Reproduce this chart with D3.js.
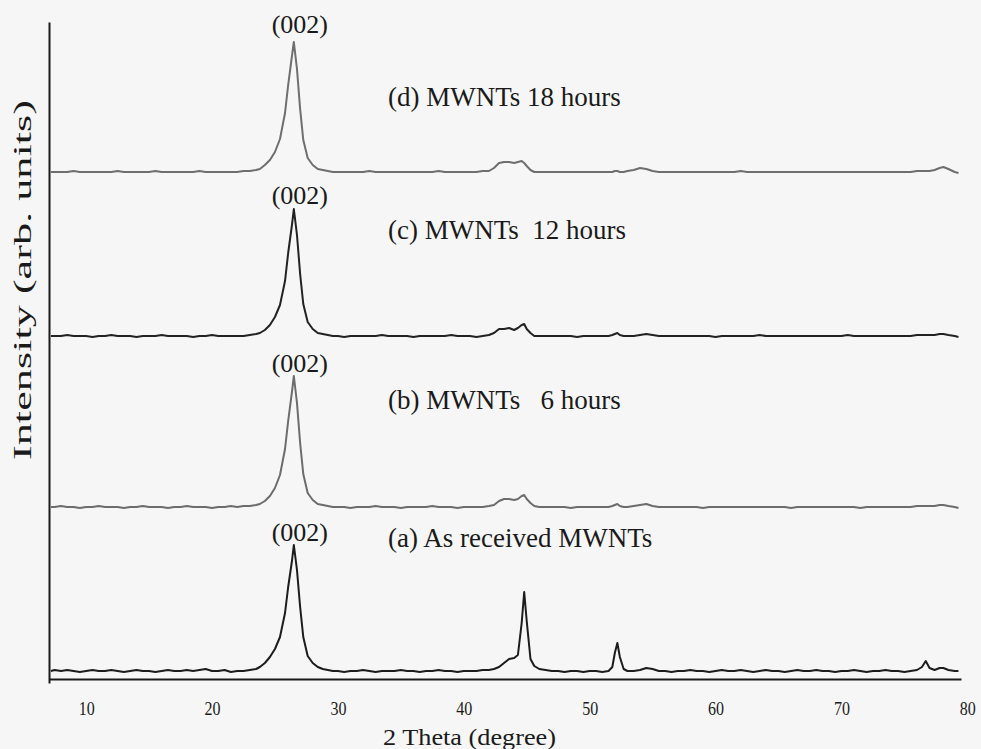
<!DOCTYPE html>
<html>
<head>
<meta charset="utf-8">
<script src="https://cdn.jsdelivr.net/npm/d3@7"></script>
<style>
  html, body { margin: 0; padding: 0; background: #f6f6f6; }
  svg { display: block; }
  text { font-family: "Liberation Serif", "DejaVu Serif", serif; fill: #1a1a1a; }
</style>
</head>
<body>
<svg id="chart" width="981" height="749"></svg>
<script>
// 2θ sampling grid (degrees), finer around the diffraction peaks
const twoTheta = [
  7.2, 7.5, 8, 8.5, 9, 9.5, 10, 10.5, 11, 11.5, 12, 12.5, 13, 13.5, 14, 14.5, 15, 15.5, 16, 16.5,
  17, 17.5, 18, 18.5, 19, 19.5, 20, 20.5, 21, 21.5, 22, 22.5, 23, 23.5,
  23.8, 24.2, 24.6, 25.0, 25.4, 25.8, 26.05, 26.35, 26.5, 26.75, 27.0, 27.25, 27.6, 28.0, 28.4, 28.8, 29.2,
  29.6, 30, 30.5, 31, 31.5, 32, 32.5, 33, 33.5, 34, 34.5, 35, 35.5, 36, 36.5, 37, 37.5, 38, 38.5, 39,
  39.5, 40, 40.5, 41, 41.5, 42,
  42.4, 42.8, 43.2, 43.6, 44.0, 44.3, 44.6, 44.8, 45.0, 45.3, 45.6, 46.0,
  46.5, 47, 47.5, 48, 48.5, 49, 49.5, 50, 50.5, 51, 51.5,
  51.8, 52.0, 52.2, 52.4, 52.7,
  53, 53.5, 54, 54.5, 55, 55.5, 56, 56.5, 57, 57.5, 58, 58.5, 59, 59.5, 60, 60.5, 61, 61.5, 62, 62.5,
  63, 63.5, 64, 64.5, 65, 65.5, 66, 66.5, 67, 67.5, 68, 68.5, 69, 69.5, 70, 70.5, 71, 71.5, 72, 72.5,
  73, 73.5, 74, 74.5, 75, 75.5, 76,
  76.4, 76.7, 77.0, 77.4, 77.8, 78.1, 78.5, 79.0, 79.3
];

// Intensities (arb. units) on the grid above
const asReceived = [
  8, 9, 8, 9, 8, 7, 8, 9, 8, 8, 9, 8, 7, 8, 9, 8, 8, 7, 8, 9,
  8, 8, 9, 8, 9, 10, 8, 8, 9, 7, 8, 8, 9, 10,
  12, 16, 22, 30, 42, 66, 92, 118, 134, 109, 72, 42, 23, 16, 12, 10, 9,
  8, 8, 7, 8, 8, 9, 8, 7, 8, 8, 8, 9, 8, 8, 7, 8, 8, 9, 8, 8,
  7, 8, 8, 8, 9, 9,
  10, 12, 16, 20, 21, 24, 56, 87, 58, 20, 13, 10,
  9, 8, 8, 7, 8, 8, 7, 8, 8, 7, 8,
  12, 26, 36, 22, 10,
  8, 8, 9, 11, 10, 8, 8, 7, 8, 8, 9, 8, 8, 7, 8, 9, 8, 8, 9, 8,
  7, 8, 9, 8, 8, 7, 8, 9, 8, 8, 9, 8, 8, 7, 8, 8, 9, 8, 7, 8,
  8, 9, 8, 8, 7, 8, 9,
  12, 18, 11, 9, 11, 11, 9, 8, 8
];

const milled6h = [
  8, 8, 9, 8, 8, 7, 8, 8, 9, 8, 8, 8, 7, 8, 8, 9, 8, 8, 8, 7,
  8, 8, 9, 8, 8, 8, 7, 8, 8, 9, 8, 9, 9, 10,
  11, 14, 19, 27, 40, 66, 94, 123, 139, 112, 72, 41, 22, 15, 11, 10, 9,
  8, 8, 8, 7, 8, 8, 8, 9, 8, 8, 8, 7, 8, 8, 8, 8, 9, 8, 8, 8,
  7, 8, 8, 8, 8, 9,
  10, 14, 16, 16, 15, 16, 19, 20, 16, 12, 9, 8,
  8, 8, 8, 8, 7, 8, 8, 8, 8, 8, 8,
  9, 10, 11, 9, 8,
  8, 9, 10, 11, 9, 8, 8, 8, 8, 8, 8, 8, 7, 8, 8, 8, 8, 8, 8, 8,
  8, 8, 8, 8, 8, 8, 7, 8, 8, 8, 8, 8, 8, 8, 8, 8, 8, 7, 8, 8,
  8, 8, 8, 8, 8, 8, 9,
  9, 9, 9, 9, 10, 10, 9, 8, 7
];

const milled12h = [
  8, 8, 8, 9, 8, 8, 8, 7, 8, 8, 9, 8, 8, 8, 7, 8, 8, 8, 9, 8,
  8, 8, 8, 7, 8, 8, 9, 8, 8, 8, 8, 8, 9, 10,
  11, 14, 19, 27, 39, 63, 91, 119, 135, 109, 70, 40, 22, 15, 11, 10, 9,
  8, 8, 7, 8, 8, 8, 8, 8, 9, 8, 8, 8, 8, 7, 8, 8, 8, 8, 8, 9,
  8, 8, 8, 7, 8, 9,
  11, 15, 15, 16, 14, 16, 19, 20, 15, 11, 8, 8,
  8, 8, 8, 8, 8, 7, 8, 8, 8, 8, 8,
  9, 10, 11, 9, 8,
  8, 8, 9, 10, 9, 8, 8, 8, 8, 8, 8, 8, 8, 8, 7, 8, 8, 8, 8, 8,
  8, 9, 8, 8, 8, 8, 8, 8, 8, 8, 8, 8, 8, 8, 8, 9, 8, 8, 8, 8,
  8, 8, 8, 8, 8, 8, 9,
  9, 9, 9, 9, 10, 10, 9, 8, 7
];

const milled18h = [
  8, 8, 8, 8, 9, 8, 8, 8, 8, 8, 8, 9, 8, 8, 8, 8, 8, 9, 8, 8,
  8, 8, 8, 8, 9, 8, 8, 8, 8, 8, 8, 9, 9, 10,
  11, 15, 20, 28, 41, 67, 95, 124, 138, 111, 71, 40, 22, 15, 11, 10, 9,
  8, 8, 8, 8, 8, 8, 9, 8, 8, 8, 8, 8, 8, 8, 8, 8, 8, 9, 8, 8,
  8, 8, 8, 8, 9, 9,
  12, 17, 18, 18, 17, 18, 19, 17, 14, 10, 8, 8,
  8, 8, 8, 8, 8, 8, 8, 8, 8, 8, 8,
  8, 9, 9, 8, 8,
  9, 10, 12, 11, 9, 8, 8, 8, 8, 8, 8, 8, 8, 8, 8, 8, 8, 8, 9, 8,
  8, 8, 8, 8, 8, 8, 8, 8, 8, 8, 8, 8, 8, 8, 8, 8, 8, 8, 8, 8,
  8, 8, 8, 8, 8, 8, 9,
  9, 9, 9, 10, 12, 13, 11, 8, 7
];

// Vertical stacking offsets and labels, bottom to top
const seriesValues = [asReceived, milled6h, milled12h, milled18h];
const seriesOffsets = [0, 164, 335, 499];
const seriesLabels = ["(a) As received MWNTs", "(b) MWNTs   6 hours", "(c) MWNTs  12 hours", "(d) MWNTs 18 hours"];
const seriesColors = ["#1c1c1c", "#6c6c6c", "#222222", "#6e6e6e"];
const peakLabel = "(002)";
const peakAngle = 26.5;
const xTickValues = [10, 20, 30, 40, 50, 60, 70, 80];
const xTitle = "2 Theta (degree)";
const yTitle = "Intensity (arb. units)";

const svg = d3.select("#chart");

const x = d3.scaleLinear().domain([7.05, 79.5]).range([49, 961]);
const y = d3.scaleLinear().domain([-4, 657]).range([683, 22]);

// Stacked diffraction patterns
const line = d3.line()
  .x((d, i) => x(twoTheta[i]))
  .y(d => y(d.v));

seriesValues.forEach((vals, k) => {
  const pts = vals.map(v => ({ v: v + seriesOffsets[k] }));
  svg.append("path")
    .datum(pts)
    .attr("fill", "none")
    .attr("stroke", seriesColors[k])
    .attr("stroke-width", 2)
    .attr("stroke-linejoin", "round")
    .attr("d", line);
});

// x axis: baseline plus numbers, no tick marks
const xAxis = svg.append("g")
  .attr("transform", `translate(0,${y(0)})`)
  .call(d3.axisBottom(x).tickValues(xTickValues).tickSize(0).tickPadding(23).tickFormat(d3.format("d")));
xAxis.select(".domain").attr("stroke", "#1a1a1a").attr("stroke-width", 2.2);
xAxis.selectAll("text")
  .style("font-size", "18px")
  .style("fill", "#1a1a1a")
  .attr("textLength", 16)
  .attr("lengthAdjust", "spacingAndGlyphs");

// y axis: plain vertical rule
const yAxis = svg.append("g")
  .attr("transform", `translate(${x(7.05)},0)`)
  .call(d3.axisLeft(y).tickValues([]).tickSizeOuter(0));
yAxis.select(".domain").attr("stroke", "#1a1a1a").attr("stroke-width", 2);

// Peak labels above the graphite (002) reflection
const peakBaselines = [541, 372, 204, 33];
peakBaselines.forEach(b => {
  svg.append("text")
    .attr("x", x(peakAngle) + 6)
    .attr("y", b)
    .attr("text-anchor", "middle")
    .style("font-size", "26px")
    .text(peakLabel);
});

// Series names
const labelBaselines = [547, 409, 239, 106];
seriesLabels.forEach((t, k) => {
  svg.append("text")
    .attr("x", 388)
    .attr("y", labelBaselines[k])
    .style("font-size", "27px")
    .style("white-space", "pre")
    .text(t);
});

// Axis titles
svg.append("text")
  .attr("x", 469.5)
  .attr("y", 745)
  .attr("text-anchor", "middle")
  .style("font-size", "24px")
  .attr("textLength", 173)
  .attr("lengthAdjust", "spacingAndGlyphs")
  .text(xTitle);

svg.append("text")
  .attr("transform", "translate(31,280) rotate(-90)")
  .attr("text-anchor", "middle")
  .style("font-size", "25px")
  .attr("textLength", 360)
  .attr("lengthAdjust", "spacingAndGlyphs")
  .text(yTitle);
</script>
</body>
</html>
